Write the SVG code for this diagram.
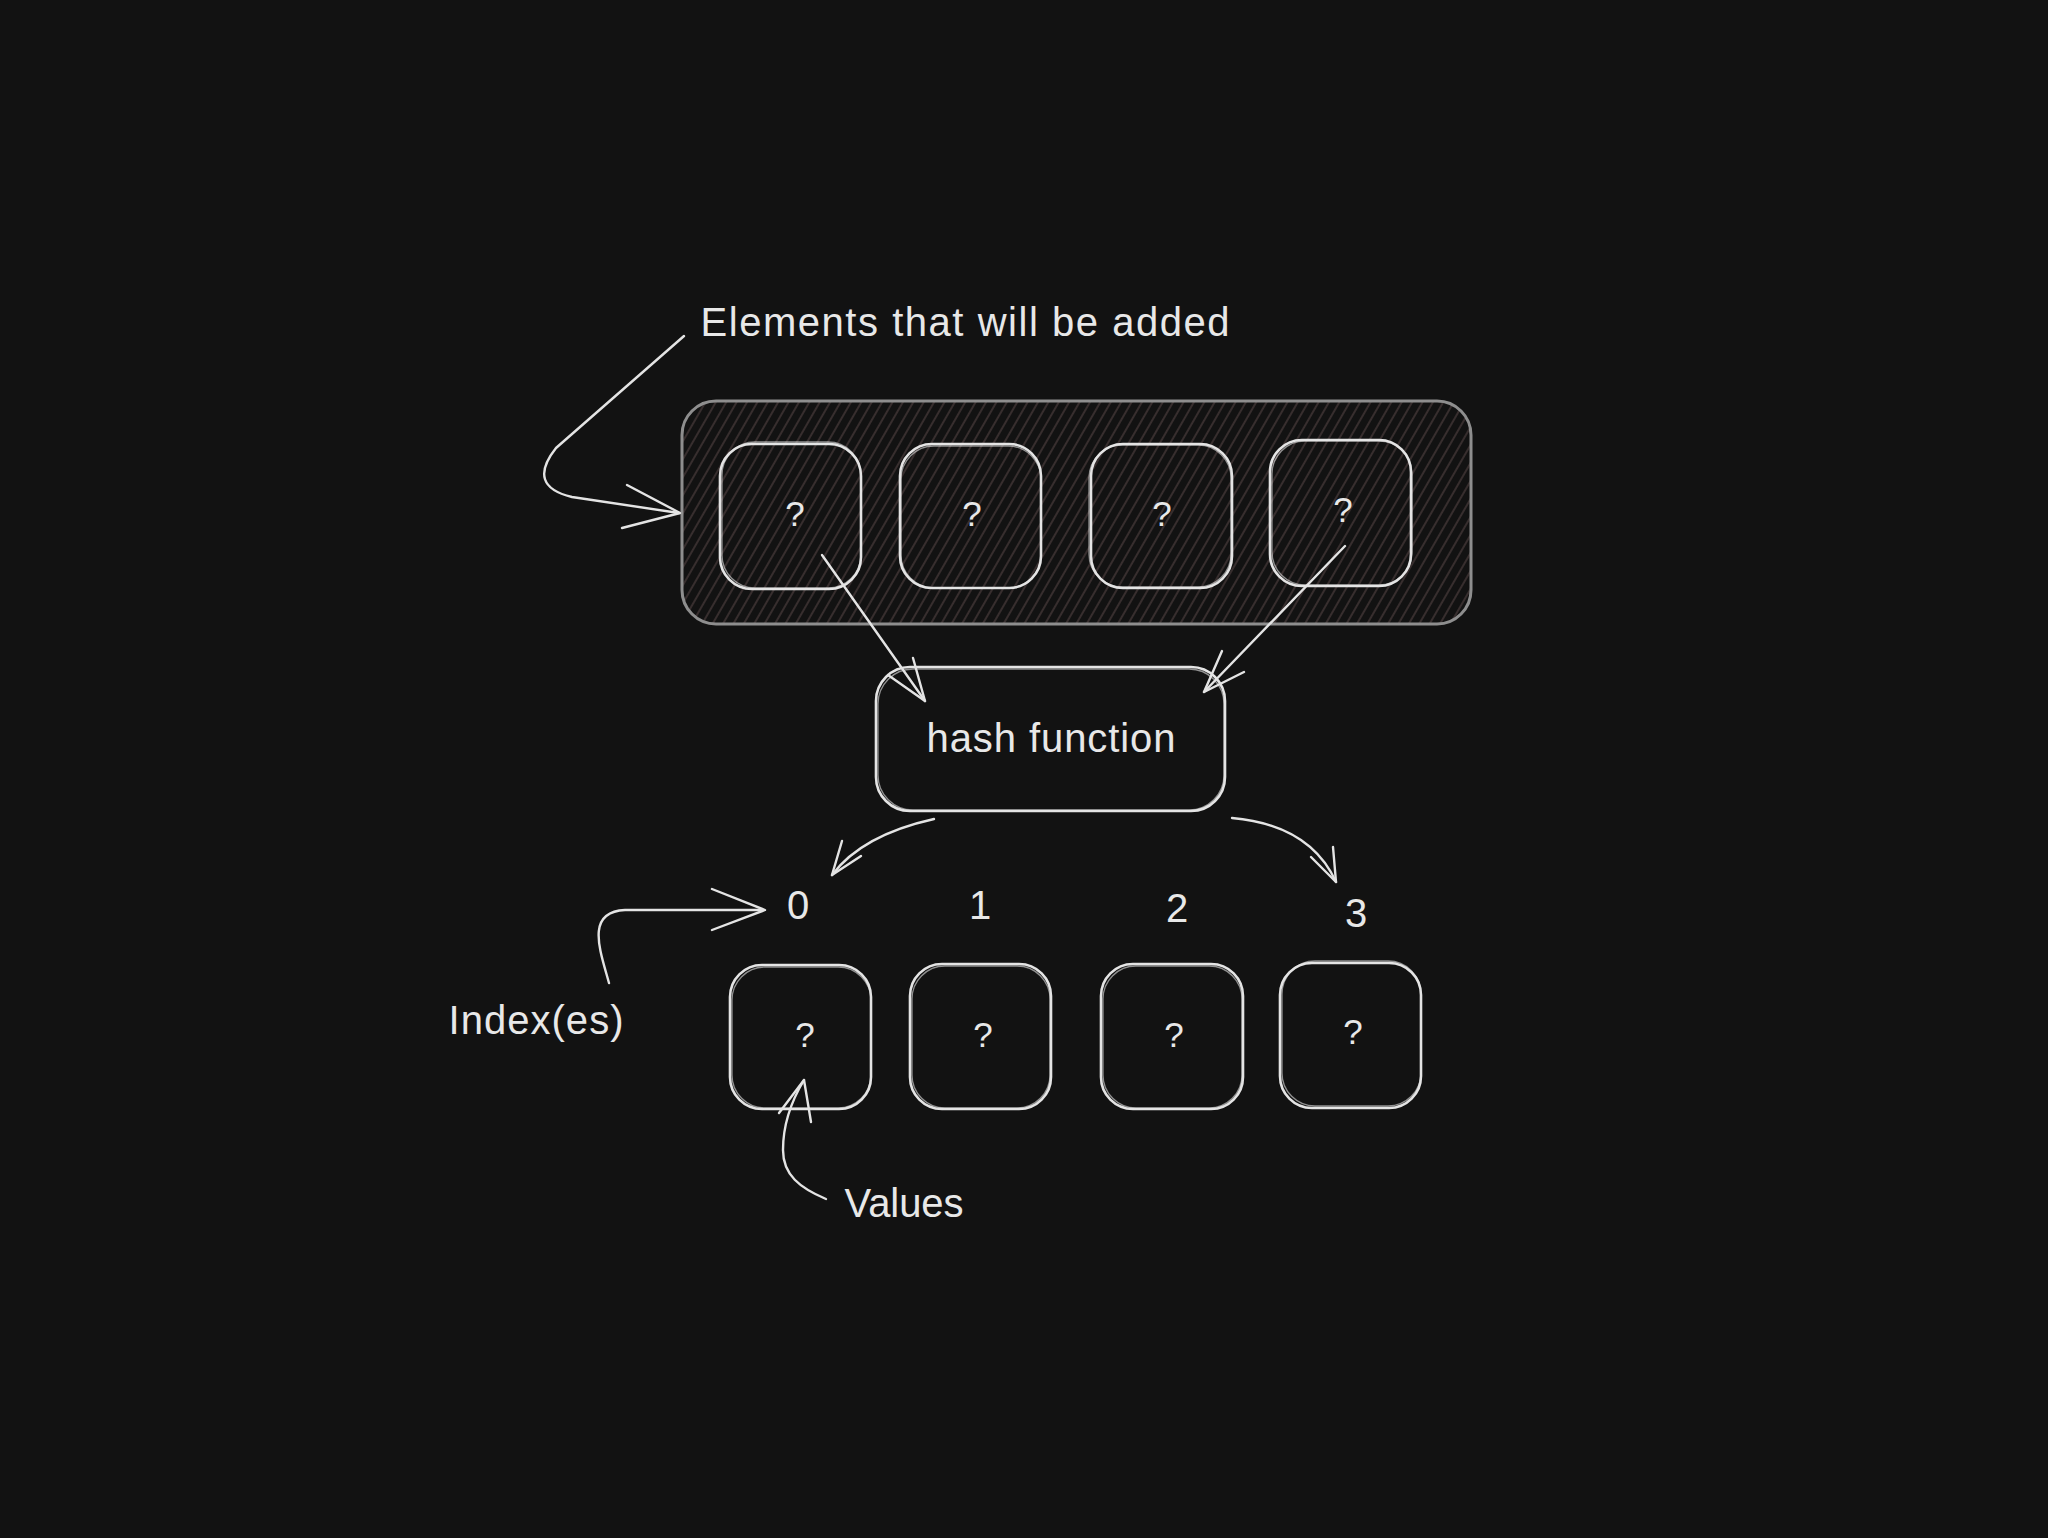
<svg xmlns="http://www.w3.org/2000/svg" width="2048" height="1538" viewBox="0 0 2048 1538">
<defs>
<pattern id="hatch" width="9" height="9" patternUnits="userSpaceOnUse" patternTransform="rotate(30)">
<line x1="2" y1="0" x2="2" y2="9" stroke="#3d3232" stroke-width="1.7"/>
</pattern>
<style>
.bg{fill:#121212}
.sk{fill:none;stroke:#e4e4e4;stroke-width:2.6;stroke-linecap:round;stroke-linejoin:round}
.sk2{fill:none;stroke:#e4e4e4;stroke-width:1.3;stroke-linecap:round;opacity:.6}
.outer{fill:url(#hatch);stroke:#8e8e8e;stroke-width:3}
.ln{fill:none;stroke:#e4e4e4;stroke-width:2.4;stroke-linecap:round;stroke-linejoin:round}
.t{font-family:"Liberation Sans","DejaVu Sans",sans-serif;fill:#e8e8e8;text-anchor:middle;dominant-baseline:central}
.q{font-size:35px}
.lbl{font-size:40px}
.num{font-size:40px}
</style>
</defs>
<rect class="bg" x="0" y="0" width="2048" height="1538"/>

<g id="elements-group">
<rect class="outer" x="682" y="401" width="789" height="223" rx="34"/>
</g>

<g id="elem1"><rect class="sk" x="720" y="444" width="141" height="145" rx="32"/><rect class="sk2" x="722" y="442" width="139" height="146" rx="33"/><text class="t q" x="795" y="513">?</text></g>
<g id="elem2"><rect class="sk" x="900" y="444" width="141" height="144" rx="32"/><rect class="sk2" x="901" y="446" width="140" height="142" rx="33"/><text class="t q" x="972" y="513">?</text></g>
<g id="elem3"><rect class="sk" x="1091" y="444" width="141" height="144" rx="32"/><rect class="sk2" x="1089" y="445" width="142" height="142" rx="33"/><text class="t q" x="1162" y="513">?</text></g>
<g id="elem4"><rect class="sk" x="1270" y="440" width="141" height="146" rx="32"/><rect class="sk2" x="1272" y="441" width="140" height="144" rx="33"/><text class="t q" x="1343" y="509">?</text></g>

<g id="hash"><rect class="sk" x="876" y="667" width="349" height="144" rx="34"/><rect class="sk2" x="878" y="669" width="346" height="141" rx="35"/><text class="t lbl" x="1051" y="738" textLength="249">hash function</text></g>

<g id="idx0"><text class="t num" x="798" y="905">0</text></g>
<g id="idx1"><text class="t num" x="980" y="905">1</text></g>
<g id="idx2"><text class="t num" x="1177" y="908">2</text></g>
<g id="idx3"><text class="t num" x="1356" y="913">3</text></g>

<g id="val0"><rect class="sk" x="730" y="965" width="141" height="144" rx="32"/><rect class="sk2" x="732" y="967" width="139" height="141" rx="33"/><text class="t q" x="805" y="1034">?</text></g>
<g id="val1"><rect class="sk" x="910" y="964" width="141" height="145" rx="32"/><rect class="sk2" x="912" y="966" width="138" height="142" rx="33"/><text class="t q" x="983" y="1034">?</text></g>
<g id="val2"><rect class="sk" x="1101" y="964" width="142" height="145" rx="32"/><rect class="sk2" x="1103" y="966" width="139" height="142" rx="33"/><text class="t q" x="1174" y="1034">?</text></g>
<g id="val3"><rect class="sk" x="1280" y="963" width="141" height="145" rx="32"/><rect class="sk2" x="1282" y="961" width="139" height="145" rx="33"/><text class="t q" x="1353" y="1031">?</text></g>

<g id="label-elements"><text class="t lbl" x="965" y="322" textLength="529">Elements that will be added</text></g>
<g id="label-index"><text class="t lbl" x="536" y="1020" textLength="175">Index(es)</text></g>
<g id="label-values"><text class="t lbl" x="904" y="1203" textLength="119">Values</text></g>

<g id="connectors">
<path class="ln" d="M684,336 L556,448 Q526,486 572,497 L679,513"/>
<path class="ln" d="M627,485 L680,513 L622,528"/>
<path class="ln" d="M822,555 L925,701"/>
<path class="ln" d="M913,658 L925,701 L888,675"/>
<path class="ln" d="M1345,546 L1204,692"/>
<path class="ln" d="M1244,672 L1204,692 L1222,651"/>
<path class="ln" d="M934,819 Q862,835 832,875"/>
<path class="ln" d="M861,856 L832,875 L842,841"/>
<path class="ln" d="M1232,818 Q1310,825 1336,882"/>
<path class="ln" d="M1333,847 L1336,882 L1311,857"/>
<path class="ln" d="M609,983 C600,950 585,912 625,910 L763,910"/>
<path class="ln" d="M712,889 L765,910 L712,930"/>
<path class="ln" d="M826,1199 C800,1188 783,1175 783,1150 C783,1120 795,1095 804,1080"/>
<path class="ln" d="M779,1113 L804,1080 L811,1122"/>
</g>
</svg>
